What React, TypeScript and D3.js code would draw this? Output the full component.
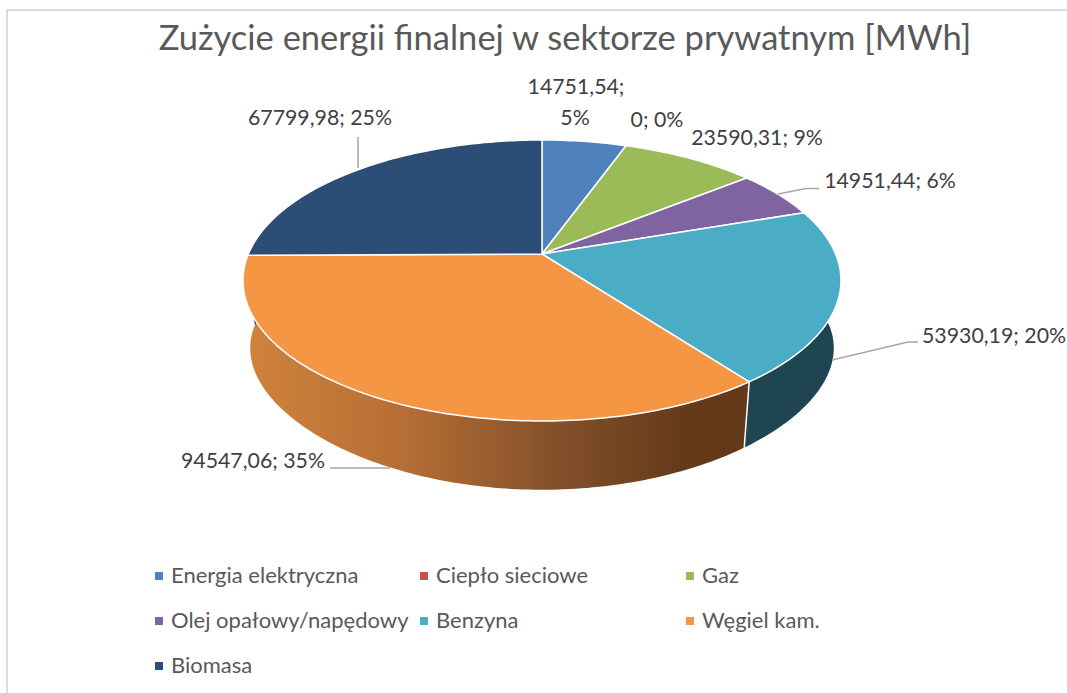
import React from "react";
import * as d3 from "d3";

const title = "Zużycie energii finalnej w sektorze prywatnym [MWh]";
const categories = ["Energia elektryczna", "Ciepło sieciowe", "Gaz", "Olej opałowy/napędowy", "Benzyna", "Węgiel kam.", "Biomasa"];
const values = [14751.54, 0, 23590.31, 14951.44, 53930.19, 94547.06, 67799.98];
const colors = ["#4F81BD", "#C0504D", "#9BBB59", "#8064A2", "#4BACC6", "#F59644", "#2C4D75"];
const sideColors = ["#2F4D71", "#73302E", "#5D7035", "#4C3C61", "#1F4452", "url(#sideOrange)", "#1A2E46"];

// label anchors: [x, baseline] per line
const labelSpots: [number, number][][] = [
  [[576, 94], [575, 125]],
  [[657, 127]],
  [[757, 145]],
  [[890, 188]],
  [[922, 343]],
  [[253, 468]],
  [[320, 125]],
];
const labelAnchor = ["middle", "middle", "middle", "middle", "start", "middle", "middle"];
const leaders: [number, number][][] = [
  [[358, 168], [358, 137]],
  [[778, 194], [806, 188.5], [819, 188.5]],
  [[832, 360], [908, 342], [918, 342]],
  [[390, 468], [330, 468]],
];
const legendX = [155, 420, 686];
const legendY = [576, 621, 666];

const W = 1067, H = 693;
const cx = 542, apexY = 254;
const R = 293.6, S = 135.5, K = 0.1886;
const lowerF = 0.976, lowerY = 324, lowerS = 121, lowerK = 0.27;

const total = d3.sum(values);
const pie = d3.pie<number>().sort(null).value((d) => d)(values);

const top = (a: number): [number, number] => {
  const u = Math.sin(a), v = Math.cos(a), d = 1 + K * v;
  return [cx + (R * u) / d, apexY - (S * v) / d];
};
const low = (a: number): [number, number] => {
  const u = Math.sin(a), v = Math.cos(a);
  return [cx + (lowerF * R * u) / (1 + K * v), lowerY - (lowerS * v) / (1 + lowerK * v)];
};
const samples = (a0: number, a1: number) => {
  const n = Math.max(2, Math.ceil((a1 - a0) * 60));
  return d3.range(n + 1).map((i) => a0 + ((a1 - a0) * i) / n);
};
const line = d3.line();
// the rim as one path of small quads, so the part between the two discs' outlines is filled too
const rimPath = (a0: number, a1: number) => {
  const pts = samples(a0, a1);
  return pts.slice(1).map((a, i) => line([top(pts[i]), top(a), low(a), low(pts[i])])! + "Z").join("");
};
const fmt = (v: number) => (v === 0 ? "0" : v.toFixed(2).replace(".", ","));
const font = "Lato, 'Open Sans', sans-serif";

export default function App() {
  return (
    <svg width={W} height={H} viewBox={`0 0 ${W} ${H}`} style={{ position: "absolute", left: 0, top: 0, display: "block", background: "#fff" }} fontFamily={font}>
      <defs>
        <linearGradient id="sideOrange" gradientUnits="userSpaceOnUse" x1={250} x2={690} y1={0} y2={0}>
          <stop offset="0" stopColor="#D0823C" />
          <stop offset="0.35" stopColor="#B56E34" />
          <stop offset="0.7" stopColor="#83502A" />
          <stop offset="1" stopColor="#63391A" />
        </linearGradient>
      </defs>
      <path d="M7 693V10H1067" fill="none" stroke="#DCDCDC" strokeWidth={2} />
      <text x={565} y={50} textAnchor="middle" fontSize={34.5} fill="#595959">{title}</text>

      {pie.map((s, i) => s.endAngle > s.startAngle && (
        <path key={"side" + i} d={rimPath(s.startAngle, s.endAngle)} fill={sideColors[i]} fillRule="nonzero" />
      ))}
      {pie.slice(0, 5).filter((s) => s.endAngle > s.startAngle).slice(-1).map((s) => (
        <path key="sep" d={line([top(s.endAngle), low(s.endAngle)])!} stroke="#fff" strokeWidth={1.5} fill="none" />
      ))}
      {pie.map((s, i) => s.endAngle > s.startAngle && (
        <path key={"top" + i}
          d={line([[cx, apexY], ...samples(s.startAngle, s.endAngle).map(top)])! + "Z"}
          fill={colors[i]} stroke="#fff" strokeWidth={1.5} strokeLinejoin="round" />
      ))}

      {leaders.map((pts, i) => (
        <path key={"lead" + i} d={line(pts)!} fill="none" stroke="#A6A6A6" strokeWidth={1.5} />
      ))}

      {values.map((v, i) => {
        const pct = Math.round((v / total) * 100) + "%";
        const spots = labelSpots[i];
        const lines = spots.length === 2 ? [fmt(v) + ";", pct] : [fmt(v) + "; " + pct];
        return lines.map((t, j) => (
          <text key={i + "-" + j} x={spots[j][0]} y={spots[j][1]} textAnchor={labelAnchor[i] as any} fontSize={21.3} fill="#404040">{t}</text>
        ));
      })}

      {categories.map((c, i) => {
        const x = legendX[i % 3], y = legendY[Math.floor(i / 3)];
        return (
          <g key={c}>
            <rect x={x} y={y - 4} width={8} height={8} fill={colors[i]} />
            <text x={x + 16} y={y + 7} fontSize={22} fill="#595959">{c}</text>
          </g>
        );
      })}
    </svg>
  );
}
